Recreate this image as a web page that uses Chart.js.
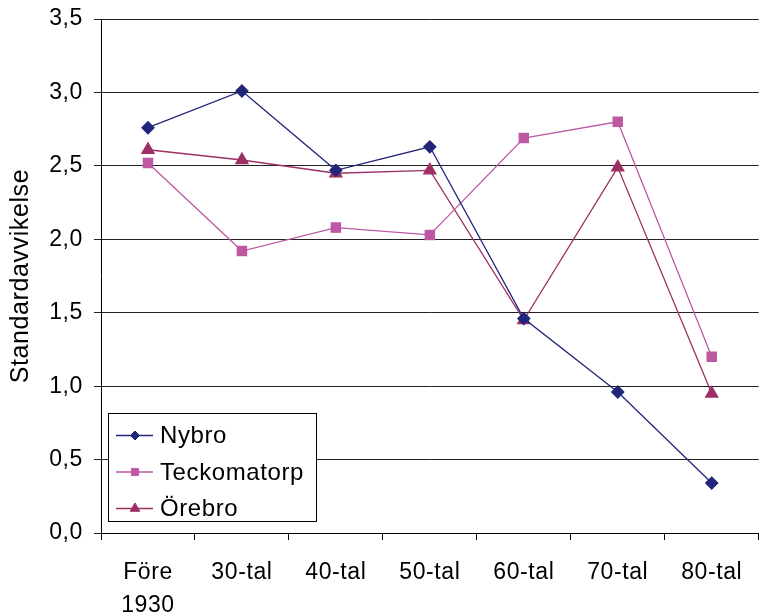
<!DOCTYPE html>
<html>
<head>
<meta charset="utf-8">
<script src="https://cdn.jsdelivr.net/npm/chart.js@4/dist/chart.umd.min.js"></script>
<style>
  html, body { margin: 0; padding: 0; background: #fff; overflow: hidden; }
  #wrap { width: 767px; height: 614px; position: relative; }
</style>
</head>
<body>
<div id="wrap"><canvas id="chart"></canvas></div>
<script>
const categories = [['Före', '1930'], '30-tal', '40-tal', '50-tal', '60-tal', '70-tal', '80-tal'];
const nybro = [2.76, 3.01, 2.47, 2.63, 1.46, 0.96, 0.34];
const teckomatorp = [2.52, 1.92, 2.08, 2.03, 2.69, 2.80, 1.20];
const orebro = [2.61, 2.54, 2.45, 2.47, 1.45, 2.49, 0.95];
const yTickLabels = ['0,0', '0,5', '1,0', '1,5', '2,0', '2,5', '3,0', '3,5'];

const FONT = 'Liberation Sans, Arial, sans-serif';
const SPACING = '0.6px';

function series(label, data, color, style, radius) {
    return {
        label: label,
        data: data,
        borderColor: color,
        backgroundColor: color,
        pointBackgroundColor: color,
        pointBorderColor: color,
        pointStyle: style,
        pointRadius: radius,
        borderWidth: 1.3,
        tension: 0
    };
}

// the original text is a little wider than plain Arial.
// canvas resize wipes the context state, so set it again before layout and draw
const wideText = {
    id: 'wideText',
    beforeLayout(chart) { chart.ctx.letterSpacing = SPACING; },
    beforeDraw(chart) { chart.ctx.letterSpacing = SPACING; }
};

// legend box sitting inside the plot, bottom left, like the original
const boxLegend = {
    id: 'boxLegend',
    afterDraw(chart) {
        const ctx = chart.ctx;
        const area = chart.chartArea;
        const x = area.left + 7, y = area.bottom - 120, w = 208, h = 108;
        ctx.save();
        ctx.fillStyle = '#fff';
        ctx.fillRect(x, y, w, h);
        ctx.strokeStyle = '#000';
        ctx.lineWidth = 1;
        ctx.strokeRect(x + 0.5, y + 0.5, w, h);
        ctx.font = '24px ' + FONT;
        ctx.textBaseline = 'middle';
        chart.data.datasets.forEach((ds, i) => {
            const cy = y + 22.5 + i * 36.5;
            ctx.strokeStyle = ds.borderColor;
            ctx.fillStyle = ds.backgroundColor;
            ctx.lineWidth = 1.3;
            ctx.beginPath();
            ctx.moveTo(x + 8, cy);
            ctx.lineTo(x + 45, cy);
            ctx.stroke();
            ctx.lineWidth = 1;
            Chart.helpers.drawPoint(ctx, {
                pointStyle: ds.pointStyle,
                radius: ds.pointRadius - 1.5,
                borderWidth: 1
            }, x + 27, cy);
            ctx.fillStyle = '#000';
            ctx.fillText(ds.label, x + 52, cy + 1);
        });
        ctx.restore();
    }
};

new Chart(document.getElementById('chart'), {
    type: 'line',
    data: {
        labels: categories,
        datasets: [
            series('Nybro', nybro, '#22267A', 'rectRot', 6),
            series('Teckomatorp', teckomatorp, '#BD58A2', 'rect', 6.5),
            series('Örebro', orebro, '#9C2F63', 'triangle', 7)
        ]
    },
    options: {
        responsive: true,
        maintainAspectRatio: false,
        animation: false,
        layout: { padding: { top: 0, right: 0, left: 0, bottom: 0 } },
        plugins: {
            legend: { display: false },
            tooltip: { enabled: false }
        },
        scales: {
            x: {
                offset: true,
                grid: {
                    offset: true,
                    drawOnChartArea: false,
                    drawTicks: true,
                    tickLength: 7,
                    color: '#000'
                },
                border: { color: '#000', width: 1 },
                ticks: {
                    color: '#000',
                    font: { family: FONT, size: 23, lineHeight: 1.45 },
                    padding: 16,
                    maxRotation: 0,
                    autoSkip: false
                },
                afterFit(scale) { scale.height = 81; }
            },
            y: {
                min: 0,
                max: 3.5,
                grid: {
                    color: '#222',
                    tickLength: 7,
                    drawTicks: true
                },
                border: { color: '#000', width: 1 },
                ticks: {
                    stepSize: 0.5,
                    color: '#000',
                    padding: 11,
                    font: { family: FONT, size: 23, lineHeight: 0.7 },
                    callback: (v, i) => yTickLabels[i]
                },
                title: {
                    display: true,
                    text: 'Standardavvikelse',
                    color: '#000',
                    font: { family: FONT, size: 25 },
                    padding: { top: 6, bottom: 0 }
                },
                afterFit(scale) { scale.width = 101; }
            }
        }
    },
    plugins: [wideText, boxLegend]
});
</script>
</body>
</html>
